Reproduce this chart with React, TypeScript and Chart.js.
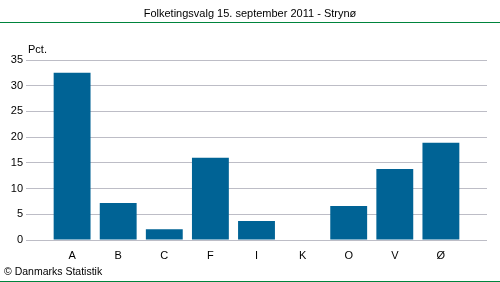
import React, { useEffect, useRef } from "react";
import { Chart, registerables } from "chart.js";

Chart.register(...registerables);

const categories = ["A", "B", "C", "F", "I", "K", "O", "V", "Ø"];
const values = [32.5, 7.2, 2.1, 16.0, 3.7, 0, 6.6, 13.8, 18.9];
const yTicks = [0, 5, 10, 15, 20, 25, 30, 35];
const titleText = "Folketingsvalg 15. september 2011 - Strynø";
const unitText = "Pct.";
const footerText = "© Danmarks Statistik";

const FONT = "'Liberation Sans', Arial, sans-serif";

const decor = {
  id: "decor",
  afterDraw(chart: any) {
    const ctx = chart.ctx;
    ctx.save();
    ctx.fillStyle = "#000";
    ctx.font = `11px ${FONT}`;
    ctx.textAlign = "center";
    ctx.textBaseline = "middle";
    ctx.fillText(titleText, 250, 14);
    ctx.strokeStyle = "#00843d";
    ctx.lineWidth = 1;
    ctx.beginPath();
    ctx.moveTo(0, 22.5);
    ctx.lineTo(500, 22.5);
    ctx.moveTo(0, 281.5);
    ctx.lineTo(500, 281.5);
    ctx.stroke();
    ctx.font = `11px ${FONT}`;
    ctx.textAlign = "left";
    ctx.fillText(unitText, 28, 50);
    ctx.font = `10.5px ${FONT}`;
    ctx.fillText(footerText, 4, 272);
    ctx.restore();
  },
};

export default function App() {
  const ref = useRef<HTMLCanvasElement | null>(null);
  useEffect(() => {
    document.body.style.margin = "0";
    if (!ref.current) return;
    const chart = new Chart(ref.current, {
      type: "bar",
      data: {
        datasets: [
          {
            data: values.map((v, i) => ({ x: i, y: v })),
            backgroundColor: "#006395",
            borderWidth: 0,
            barPercentage: 0.8,
            categoryPercentage: 1,
          },
        ],
      },
      options: {
        responsive: false,
        animation: false,
        layout: { padding: { top: 60, right: 13, left: 0, bottom: 0 } },
        plugins: { legend: { display: false }, tooltip: { enabled: false }, title: { display: false } },
        scales: {
          x: {
            type: "linear",
            offset: false,
            min: -1,
            max: categories.length,
            grid: { display: false, drawTicks: false, offset: false },
            border: { display: false },
            afterFit: (s: any) => {
              s.height = 42;
            },
            afterBuildTicks: (s: any) => {
              s.ticks = categories.map((_, i) => ({ value: i }));
            },
            ticks: {
              padding: 9,
              autoSkip: false,
              maxRotation: 0,
              color: "#000",
              font: { family: FONT, size: 11 },
              callback: (v: any) => categories[v as number] ?? "",
            },
          },
          y: {
            min: 0,
            max: 35,
            afterFit: (s: any) => {
              s.width = 26;
            },
            afterBuildTicks: (s: any) => {
              s.ticks = yTicks.map((v) => ({ value: v }));
            },
            grid: { color: "#bdbdc6", lineWidth: 1, drawTicks: false },
            border: { display: false },
            ticks: {
              padding: 3,
              color: "#000",
              font: { family: FONT, size: 11 },
            },
          },
        },
      },
      plugins: [decor],
    });
    return () => chart.destroy();
  }, []);
  return (
    <div style={{ width: 500, height: 282 }}>
      <canvas ref={ref} width={500} height={282} style={{ display: "block" }} />
    </div>
  );
}
